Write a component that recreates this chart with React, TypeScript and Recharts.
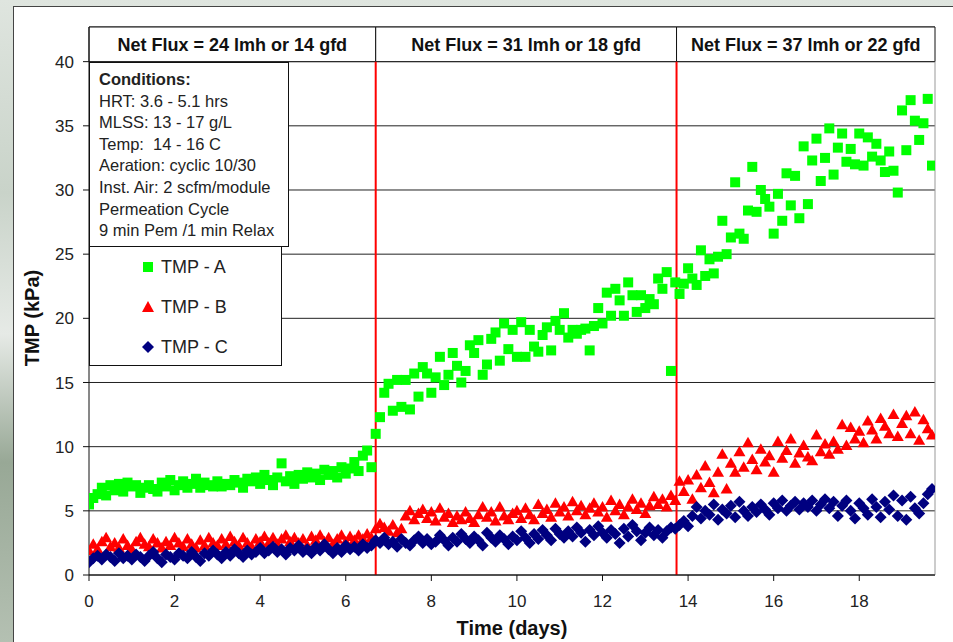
import React from "react";
import {
  ScatterChart,
  Scatter,
  XAxis,
  YAxis,
  CartesianGrid,
  ReferenceLine,
  ReferenceArea,
  Legend,
} from "recharts";

// sampling times (days)
const days = [
  0, 0.1, 0.2, 0.3, 0.4, 0.5, 0.6, 0.7, 0.8, 0.9,
  1, 1.1, 1.2, 1.3, 1.4, 1.5, 1.6, 1.7, 1.8, 1.9,
  2, 2.1, 2.2, 2.3, 2.4, 2.5, 2.6, 2.7, 2.8, 2.9,
  3, 3.1, 3.2, 3.3, 3.4, 3.5, 3.6, 3.7, 3.8, 3.9,
  4, 4.1, 4.2, 4.3, 4.4, 4.5, 4.6, 4.7, 4.8, 4.9,
  5, 5.1, 5.2, 5.3, 5.4, 5.5, 5.6, 5.7, 5.8, 5.9,
  6, 6.1, 6.2, 6.3, 6.4, 6.5, 6.6, 6.7, 6.8, 6.9,
  7, 7.1, 7.2, 7.3, 7.4, 7.5, 7.6, 7.7, 7.8, 7.9,
  8, 8.1, 8.2, 8.3, 8.4, 8.5, 8.6, 8.7, 8.8, 8.9,
  9, 9.1, 9.2, 9.3, 9.4, 9.5, 9.6, 9.7, 9.8, 9.9,
  10, 10.1, 10.2, 10.3, 10.4, 10.5, 10.6, 10.7, 10.8, 10.9,
  11, 11.1, 11.2, 11.3, 11.4, 11.5, 11.6, 11.7, 11.8, 11.9,
  12, 12.1, 12.2, 12.3, 12.4, 12.5, 12.6, 12.7, 12.8, 12.9,
  13, 13.1, 13.2, 13.3, 13.4, 13.5, 13.6, 13.7, 13.8, 13.9,
  14, 14.1, 14.2, 14.3, 14.4, 14.5, 14.6, 14.7, 14.8, 14.9,
  15, 15.1, 15.2, 15.3, 15.4, 15.5, 15.6, 15.7, 15.8, 15.9,
  16, 16.1, 16.2, 16.3, 16.4, 16.5, 16.6, 16.7, 16.8, 16.9,
  17, 17.1, 17.2, 17.3, 17.4, 17.5, 17.6, 17.7, 17.8, 17.9,
  18, 18.1, 18.2, 18.3, 18.4, 18.5, 18.6, 18.7, 18.8, 18.9,
  19, 19.1, 19.2, 19.3, 19.4, 19.5, 19.6, 19.7,
];

// TMP (kPa)
const tmpA = [
  5.5, 6.0, 6.3, 6.8, 6.2, 7.0, 6.6, 7.1, 6.5, 7.2,
  6.9, 7.0, 6.4, 6.8, 7.0, 6.7, 6.5, 7.2, 6.9, 7.4,
  6.6, 7.0, 7.3, 6.8, 7.1, 7.5, 6.8, 7.2, 7.0, 6.9,
  7.3, 6.9, 7.1, 7.0, 7.4, 7.2, 6.8, 7.5, 7.3, 7.6,
  7.1, 7.8, 7.4, 7.0, 7.6, 8.7, 7.3, 7.7, 7.1, 7.8,
  7.5, 8.0, 7.6, 7.9, 7.4, 8.2, 7.8, 8.1, 7.6, 8.4,
  7.9, 8.3, 8.8, 8.1, 9.3, 9.7, 8.4,
  11.0, 12.3, 14.2, 14.9, 12.8, 15.2, 13.1, 15.2, 12.9, 15.7,
  13.9, 16.2, 15.7, 14.2, 15.4, 17.0, 14.8, 15.6, 17.3, 16.3,
  15.0, 15.9, 17.9, 17.3, 18.3, 15.6, 16.4, 18.4, 18.9, 16.7,
  19.6, 17.6, 19.1, 17.0, 19.7, 17.0, 19.1, 17.8, 17.4, 18.7,
  19.3, 17.5, 19.8, 19.1, 20.4, 18.5, 19.1, 18.8, 19.1, 19.2,
  17.5, 19.4, 20.8, 19.6, 22.0, 20.2, 22.3, 21.4, 20.2, 22.8,
  21.8, 20.5, 21.8, 20.8, 21.5, 21.1, 23.1, 22.3, 23.6, 15.9,
  22.8, 21.9, 22.7, 23.9, 23.1, 22.6, 25.3, 23.3, 24.6, 23.5,
  24.8, 27.6, 25.0, 26.3, 30.6, 26.6, 26.2, 28.4, 31.8, 28.3,
  30.0, 29.3, 28.7, 26.6, 29.7, 27.6, 31.3, 28.8, 31.1, 27.8,
  33.4, 28.9, 32.3, 34.0, 30.7, 32.5, 34.8, 31.2, 33.3, 34.4,
  32.2, 33.2, 32.0, 34.4, 31.9, 34.1, 32.6, 33.6, 32.3, 31.4,
  33.0, 31.5, 29.8, 36.2, 33.1, 37.0, 35.4, 33.9, 35.2, 37.1,
  31.9,
];

const tmpB = [
  1.9, 2.4, 2.0, 2.6, 2.9, 2.2, 2.5, 2.1, 2.8, 2.3,
  2.0, 2.6, 2.9, 2.4, 2.2, 2.8, 2.5, 2.1, 2.6, 2.3,
  2.9, 2.5, 2.2, 2.8, 2.4, 2.1, 2.7, 2.3, 2.9, 2.5,
  2.3, 2.8, 2.4, 3.0, 2.6, 2.3, 2.9, 2.5, 2.2, 2.8,
  2.6, 3.0, 2.5, 2.9, 2.4, 2.8, 3.1, 2.6, 2.9, 2.5,
  2.8, 2.3, 3.0, 2.7, 3.1, 2.6, 2.9, 2.4, 2.8, 3.1,
  2.6, 3.0, 2.7, 3.1, 2.8, 3.2, 2.9,
  3.6, 4.0, 3.7, 3.4, 3.9, 3.3, 3.6, 4.6, 5.0, 4.3,
  4.8, 5.1, 4.4, 4.9, 4.2, 5.2, 4.5, 4.8, 4.1, 4.6,
  4.3, 4.9, 4.4, 4.1, 4.7, 5.3, 4.5, 4.9, 4.2, 5.3,
  4.6, 4.3, 4.8, 5.0, 4.4, 5.2, 4.7, 4.3, 5.5, 4.8,
  5.1, 4.5, 5.6, 4.9, 5.3, 4.6, 5.7, 5.0, 5.4, 4.7,
  5.2, 5.6, 4.9, 5.3, 4.5, 5.8, 5.0, 5.5, 4.7, 5.3,
  5.9, 5.1, 5.6, 4.8, 5.4, 6.1, 5.5, 5.9, 5.3, 6.2,
  5.8, 7.3, 6.5, 7.4, 5.9, 7.8, 6.8, 8.5, 7.2, 6.4,
  8.0, 9.4, 6.7, 8.7, 8.0, 9.6, 8.4, 10.3, 9.0, 8.2,
  9.8, 8.8, 9.3, 8.0, 10.4, 9.1, 9.7, 10.6, 8.7, 9.5,
  10.1, 9.2, 8.9, 10.9, 9.6, 10.2, 9.4, 10.4, 9.8, 11.7,
  10.1, 11.5, 10.6, 11.2, 10.3, 12.0, 11.3, 10.6, 12.2, 11.6,
  11.0, 12.5, 10.8, 11.8, 12.4, 11.0, 12.7, 10.5, 12.1, 11.4,
  10.9,
];

const tmpC = [
  1.0, 1.3, 1.5, 1.2, 1.6, 1.4, 1.1, 1.7, 1.3, 1.5,
  1.2, 1.6, 1.4, 1.1, 1.5, 1.8, 1.3, 1.0, 1.6, 1.4,
  1.2, 1.7, 1.5, 1.3, 1.8, 1.4, 1.1, 1.7, 1.5, 1.9,
  1.6, 1.3, 1.8, 1.5, 2.0, 1.7, 1.4, 1.9, 1.6, 1.8,
  2.1, 1.7, 1.9, 2.2, 1.8, 2.0, 1.6, 2.1, 1.9, 2.3,
  1.8, 2.0, 1.7, 2.2, 1.9, 2.4, 2.0, 1.7, 2.1, 1.8,
  2.3, 2.0, 2.2, 1.9, 2.4, 2.1, 2.3,
  2.7, 2.5, 2.9, 2.4, 2.6, 2.2, 2.8, 2.5, 2.3, 2.7,
  3.0, 2.5, 2.8, 2.4, 2.6, 3.1, 2.7, 2.3, 2.9, 2.6,
  3.2, 2.8, 2.5, 3.0, 2.7, 2.3, 3.3, 2.9, 2.6, 3.1,
  2.8, 2.4, 3.0, 2.7, 3.4, 2.9, 2.5, 3.2, 2.8, 3.5,
  3.1, 2.7, 3.6, 3.2, 2.9, 3.4, 3.0, 3.7, 3.3, 2.6,
  3.5, 3.1, 3.8, 3.3, 2.9, 3.5, 3.2, 2.5, 3.6, 3.0,
  3.9, 3.4, 2.7, 3.3, 3.7, 3.1, 3.5, 2.9, 3.4, 3.7,
  3.6, 3.9, 4.2, 3.8, 4.6, 5.3, 4.4, 5.0, 4.7, 5.5,
  4.3, 5.1, 4.8, 5.4, 4.5, 5.7, 5.0, 4.6, 5.3, 4.9,
  5.5, 5.1, 4.7, 5.6, 5.2, 5.8, 5.0, 5.4, 5.7, 5.1,
  5.6, 5.3, 5.8, 5.0, 5.5, 5.9, 5.2, 5.7, 4.6, 5.4,
  5.8, 5.0, 4.4, 5.6, 5.2, 4.7, 5.9, 5.3, 4.5, 5.7,
  5.1, 6.2, 4.6, 5.8, 4.3, 6.1, 5.2, 4.8, 5.6, 6.3,
  6.7,
];

const phases = [
  { label: "Net Flux = 24 lmh or 14 gfd", start: 0, end: 6.7 },
  { label: "Net Flux = 31 lmh or 18 gfd", start: 6.7, end: 13.73 },
  { label: "Net Flux = 37 lmh or 22 gfd", start: 13.73, end: 19.77 },
];

const conditions = [
  "HRT: 3.6 - 5.1 hrs",
  "MLSS: 13 - 17 g/L",
  "Temp:  14 - 16 C",
  "Aeration: cyclic 10/30",
  "Inst. Air: 2 scfm/module",
  "Permeation Cycle",
  "9 min Pem /1 min Relax",
];

const xTicks = [0, 2, 4, 6, 8, 10, 12, 14, 16, 18];
const yTicks = [0, 5, 10, 15, 20, 25, 30, 35, 40];

const dataA = days.map((t, i) => ({ t, v: tmpA[i] }));
const dataB = days.map((t, i) => ({ t, v: tmpB[i] }));
const dataC = days.map((t, i) => ({ t, v: tmpC[i] }));

const FONT = "'Liberation Sans', Arial, sans-serif";

const Square = (p: any) => (
  <rect x={p.cx - 5} y={p.cy - 5} width={10} height={10} fill="#00ff00" />
);
const Triangle = (p: any) => (
  <polygon
    points={`${p.cx},${p.cy - 6} ${p.cx + 6},${p.cy + 4.5} ${p.cx - 6},${p.cy + 4.5}`}
    fill="#ff0000"
  />
);
const Diamond = (p: any) => (
  <polygon
    points={`${p.cx},${p.cy - 6} ${p.cx + 6},${p.cy} ${p.cx},${p.cy + 6} ${p.cx - 6},${p.cy}`}
    fill="#000080"
  />
);

const icons: Record<string, any> = {
  "TMP - A": <rect x={2} y={2} width={10} height={10} fill="#00ff00" />,
  "TMP - B": <polygon points="7,1 13,12 1,12" fill="#ff0000" />,
  "TMP - C": <polygon points="7,1 13,7 7,13 1,7" fill="#000080" />,
};

const LegendBox = (props: any) => {
  const payload = props.payload || [];
  return (
    <div
      style={{
        width: 193,
        height: 121,
        boxSizing: "border-box",
        border: "1px solid #111",
        background: "#fff",
        position: "relative",
        fontFamily: FONT,
        fontSize: 18,
        color: "#222",
      }}
    >
      {payload.map((e: any, i: number) => (
        <div
          key={e.value}
          style={{
            position: "absolute",
            left: 51,
            top: 10 + i * 40,
            height: 22,
            display: "flex",
            alignItems: "center",
            whiteSpace: "nowrap",
          }}
        >
          <svg width={14} height={14} style={{ marginRight: 6 }}>
            {icons[e.value]}
          </svg>
          <span>{e.value}</span>
        </div>
      ))}
    </div>
  );
};

export default function App() {
  return (
    <div
      style={{
        position: "absolute",
        left: 0,
        top: 0,
        width: 953,
        height: 642,
        overflow: "hidden",
        background:
          "linear-gradient(180deg, #dfe5df 0%, #c9d3c9 30%, #e6eae6 52%, #98a896 72%, #b4c0b2 100%)",
      }}
    >
      <div
        style={{
          position: "absolute",
          left: 13,
          top: 6,
          width: 945,
          height: 645,
          background: "#fff",
          borderLeft: "1px solid #444",
          borderTop: "1px solid #444",
        }}
      />
      <div style={{ position: "absolute", left: 0, top: 0 }}>
        <ScatterChart
          width={953}
          height={642}
          margin={{ top: 27, right: 18, bottom: 0, left: 13 }}
          style={{ fontFamily: FONT }}
        >
          <CartesianGrid horizontal vertical={false} stroke="#222" strokeOpacity={1} />
          <XAxis
            dataKey="t"
            type="number"
            domain={[0, 19.77]}
            ticks={xTicks}
            allowDataOverflow
            height={67}
            tickSize={6}
            tickMargin={14}
            axisLine={{ stroke: "#111" }}
            tickLine={{ stroke: "#111" }}
            tick={{ fontSize: 17, fill: "#222" }}
            label={{
              content: () => (
                <text
                  x={512}
                  y={635}
                  textAnchor="middle"
                  fontSize={20}
                  fontWeight="bold"
                  fill="#111"
                  fontFamily={FONT}
                >
                  Time (days)
                </text>
              ),
            }}
          />
          <YAxis
            dataKey="v"
            type="number"
            domain={[0, 42.7]}
            ticks={yTicks}
            allowDataOverflow
            width={76}
            tickSize={6}
            tickMargin={9}
            axisLine={{ stroke: "#111" }}
            tickLine={{ stroke: "#111" }}
            tick={{ fontSize: 17, fill: "#222" }}
            label={{
              content: () => (
                <text
                  x={39}
                  y={318}
                  transform="rotate(-90, 39, 318)"
                  textAnchor="middle"
                  fontSize={20}
                  fontWeight="bold"
                  fill="#111"
                  fontFamily={FONT}
                >
                  TMP (kPa)
                </text>
              ),
            }}
          />
          {phases.map((p) => (
            <ReferenceArea
              key={p.label}
              x1={p.start}
              x2={p.end}
              y1={40}
              y2={42.7}
              fill="#fff"
              fillOpacity={1}
              stroke="#111"
              strokeOpacity={1}
              label={{
                value: p.label,
                position: "center",
                fontSize: 18,
                fontWeight: "bold",
                fill: "#111",
              }}
            />
          ))}
          <ReferenceLine
            segment={[
              { x: 19.77, y: 0 },
              { x: 19.77, y: 40 },
            ]}
            stroke="#999"
          />
          <Scatter name="TMP - A" data={dataA} fill="#00ff00" shape={Square} isAnimationActive={false} />
          <Scatter name="TMP - B" data={dataB} fill="#ff0000" shape={Triangle} isAnimationActive={false} />
          <Scatter name="TMP - C" data={dataC} fill="#000080" shape={Diamond} isAnimationActive={false} />
          {phases.slice(1).map((p) => (
            <ReferenceLine
              key={p.start}
              segment={[
                { x: p.start, y: 0 },
                { x: p.start, y: 40 },
              ]}
              stroke="#ff0000"
              strokeWidth={2}
            />
          ))}
          <Legend
            layout="vertical"
            align="center"
            verticalAlign="middle"
            content={LegendBox}
            wrapperStyle={{ left: 89, top: 245, width: 193, height: 121 }}
          />
        </ScatterChart>
      </div>
      <div
        style={{
          position: "absolute",
          left: 89,
          top: 62,
          width: 200,
          height: 185,
          boxSizing: "border-box",
          border: "1px solid #111",
          background: "#fff",
          padding: "6px 0 0 9px",
          fontFamily: FONT,
          fontSize: 16.5,
          lineHeight: "21.6px",
          color: "#222",
          whiteSpace: "pre",
        }}
      >
        <div style={{ fontWeight: "bold" }}>Conditions:</div>
        {conditions.map((c) => (
          <div key={c}>{c}</div>
        ))}
      </div>
    </div>
  );
}
